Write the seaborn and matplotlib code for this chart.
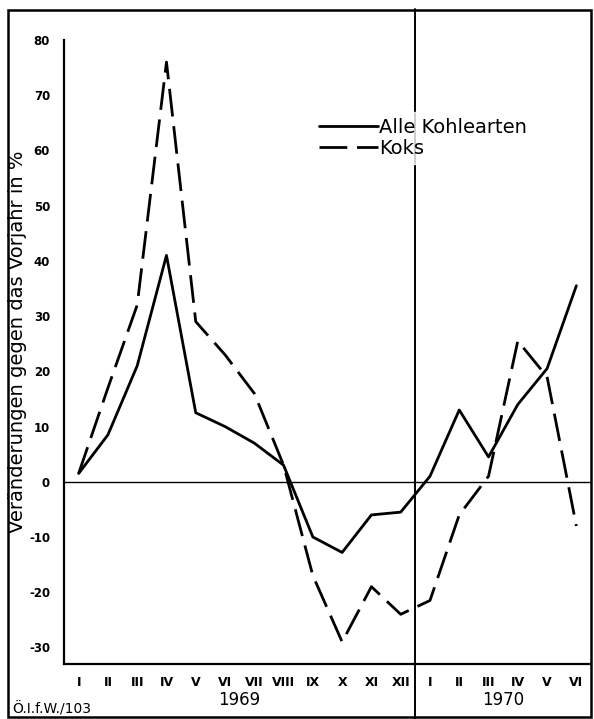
import matplotlib
matplotlib.use("Agg")
import matplotlib.pyplot as plt
import pandas as pd
import seaborn as sns
from matplotlib.patches import Rectangle

months = ["I", "II", "III", "IV", "V", "VI", "VII", "VIII", "IX", "X", "XI", "XII",
          "I", "II", "III", "IV", "V", "VI"]
alle_kohlearten = [1.5, 8.5, 21, 41, 12.5, 10, 7, 3, -10, -12.8, -6, -5.5,
                   1, 13, 4.5, 14, 20.5, 35.5]
koks = [1.5, 17, 32, 76, 29, 23, 16, 3, -17, -29, -19, -24,
        -21.5, -6, 1, 25.5, 19, -8]
years = ["1969", "1970"]
series_names = ["Alle Kohlearten", "Koks"]

df = pd.concat([
    pd.DataFrame({"idx": range(len(months)), "wert": alle_kohlearten, "reihe": series_names[0]}),
    pd.DataFrame({"idx": range(len(months)), "wert": koks, "reihe": series_names[1]}),
])

sns.set_style("white")
plt.rcParams["font.family"] = ["DejaVu Sans"]
plt.rcParams["text.color"] = "black"
plt.rcParams["axes.labelcolor"] = "black"
plt.rcParams["xtick.color"] = "black"
plt.rcParams["ytick.color"] = "black"

W, H = 594, 719
fig = plt.figure(figsize=(W / 100, H / 100), dpi=100)
ax = fig.add_axes([64 / W, (H - 664) / H, (591 - 64) / W, (664 - 40) / H])

sns.lineplot(
    data=df, x="idx", y="wert", style="reihe", color="black",
    dashes={series_names[0]: "", series_names[1]: (10, 3.5)},
    linewidth=2.0, ax=ax, legend=False,
)

ax.set_xlim(-0.5, 17.5)
ax.set_ylim(-33, 80)
ax.axhline(0, color="black", linewidth=1.0, zorder=1)

# separator between years, over the whole frame
ax.plot([11.5, 11.5], [-0.09, 1.05], transform=ax.get_xaxis_transform(),
        color="black", linewidth=1.4, clip_on=False, zorder=1)

for s in ["top", "right"]:
    ax.spines[s].set_visible(False)
for s in ["left", "bottom"]:
    ax.spines[s].set_color("black")
    ax.spines[s].set_linewidth(1.6)

ax.set_yticks(range(-30, 81, 10))
ax.set_yticklabels([f"{v}" for v in range(-30, 81, 10)], fontsize=8.5, fontweight="bold")
ax.tick_params(axis="y", direction="in", length=7, width=1.2, pad=10)

ax.set_xticks(range(len(months)))
ax.set_xticklabels(months, fontsize=9, fontweight="bold")
ax.tick_params(axis="x", length=0, pad=9)
ax.set_xticks([i + 0.5 for i in range(len(months) - 1)], minor=True)
ax.tick_params(axis="x", which="minor", direction="in", length=5, width=1.0)

ax.set_xlabel("")
ax.set_ylabel("Veränderungen gegen das Vorjahr in %", fontsize=14)
ax.yaxis.set_label_coords(-0.07, 0.516)

ax.text(5.5, -0.058, years[0], transform=ax.get_xaxis_transform(),
        ha="center", va="center", fontsize=12)
ax.text(14.5, -0.058, years[1], transform=ax.get_xaxis_transform(),
        ha="center", va="center", fontsize=12)

fig.text(12 / W, 1 - 709 / H, "Ö.I.f.W./103", fontsize=10, ha="left", va="center")

# legend
handles = ax.get_lines()[:2]
leg = ax.legend(handles, series_names, loc="upper left", bbox_to_anchor=(0.455, 0.9),
                frameon=True, fontsize=14, handlelength=3.0, handletextpad=0.05,
                labelspacing=0.1, borderpad=0.3)
leg.get_frame().set_facecolor("white")
leg.get_frame().set_edgecolor("white")
leg.set_zorder(5)

# outer frame
fig.add_artist(Rectangle((8 / W, 2 / H), (591 - 8) / W, (717 - 10) / H,
                         transform=fig.transFigure, fill=False,
                         edgecolor="black", linewidth=1.8))

fig.savefig("out.png", dpi=100, facecolor="white")
